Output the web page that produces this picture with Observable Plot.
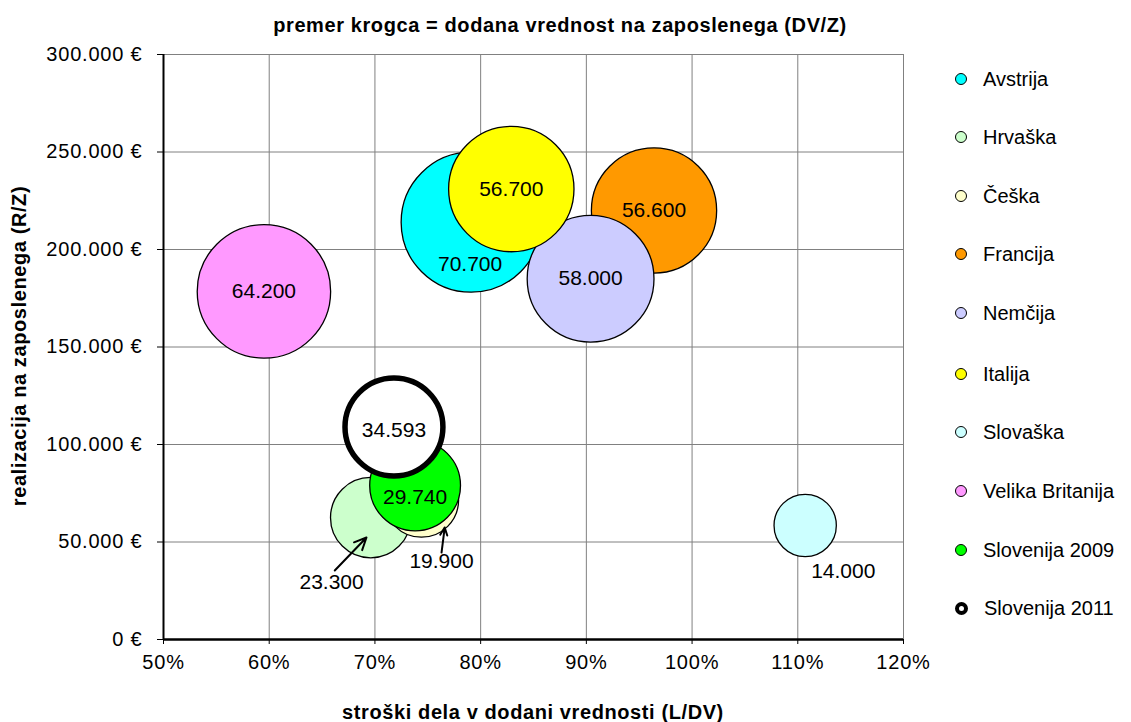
<!DOCTYPE html>
<html>
<head>
<meta charset="utf-8">
<script src="https://cdn.jsdelivr.net/npm/d3@7"></script>
<script src="https://cdn.jsdelivr.net/npm/@observablehq/plot@0.6"></script>
<style>
  body { margin: 0; background: #fff; font-family: "Liberation Sans", Arial, sans-serif; }
  #wrap { position: relative; width: 1131px; height: 722px; }
  #wrap svg { position: absolute; left: 0; top: 0; }
  .title { position: absolute; font-weight: bold; font-size: 20px; letter-spacing: 0.6px; color: #000; white-space: nowrap; line-height: 1; }
  .legend { position: absolute; left: 955px; top: 0; font-size: 20px; }
  .legend .item { position: absolute; left: 0; height: 24px; display: flex; align-items: center; white-space: nowrap; transform: translateY(-50%); }
  .legend .sw { width: 10px; height: 10px; border: 1.5px solid #000; border-radius: 50%; margin-right: 16px; box-sizing: content-box; }
  .tick-lbl text { letter-spacing: 0.8px; }
</style>
</head>
<body>
<div id="wrap">
  <div class="title" style="left:560px;top:25px;transform:translate(-50%,-50%);">premer krogca = dodana vrednost na zaposlenega (DV/Z)</div>
  <div class="title" style="left:533px;top:712px;transform:translate(-50%,-50%);">stroški dela v dodani vrednosti (L/DV)</div>
  <div class="title" style="left:19px;top:346px;transform:translate(-50%,-50%) rotate(-90deg);">realizacija na zaposlenega (R/Z)</div>
  <div class="legend" id="legend"></div>
</div>
<script>
// ---- data ----
const countries = ["Avstrija", "Hrvaška", "Češka", "Francija", "Nemčija", "Italija", "Slovaška", "Velika Britanija", "Slovenija 2009", "Slovenija 2011"];
const laborShare = [0.791, 0.696, 0.744, 0.964, 0.904, 0.829, 1.107, 0.595, 0.738, 0.718];
const revenuePerEmployee = [214000, 62500, 71500, 220000, 185000, 231000, 58500, 178500, 79000, 109000];
const valueAddedPerEmployee = [70700, 23300, 19900, 56600, 58000, 56700, 14000, 64200, 29740, 34593];
const labelText = ["70.700", "23.300", "19.900", "56.600", "58.000", "56.700", "14.000", "64.200", "29.740", "34.593"];
const labelX = [0.790, 0.659, 0.763, 0.964, 0.904, 0.829, 1.143, 0.595, 0.738, 0.718];
const labelY = [192300, 29200, 40000, 220000, 185000, 231000, 34900, 178500, 72800, 107200];
const fillColors = ["#00FFFF", "#CCFFCC", "#FFFFCC", "#FF9900", "#CCCCFF", "#FFFF00", "#CCFFFF", "#FF99FF", "#00FF00", "#FFFFFF"];
const strokeWidths = [1.3, 1.3, 1.3, 1.3, 1.3, 1.3, 1.3, 1.3, 1.3, 5.5];
// arrows from label to bubble (Hrvaška, Češka)
const arrowFromX = [0.662, 0.763];
const arrowFromY = [35400, 44600];
const arrowToX = [0.692, 0.766];
const arrowToY = [52300, 57400];
const xTicks = [0.5, 0.6, 0.7, 0.8, 0.9, 1.0, 1.1, 1.2];
const yTicks = [0, 50000, 100000, 150000, 200000, 250000, 300000];
const legendRowY = [79, 137, 196, 254, 313, 374, 432, 491, 550, 608];

// ---- build tables ----
const bubbles = countries.map((c, i) => ({
  country: c, x: laborShare[i], y: revenuePerEmployee[i], v: valueAddedPerEmployee[i],
  fill: fillColors[i], sw: strokeWidths[i]
}));
const labels = countries.map((c, i) => ({ x: labelX[i], y: labelY[i], text: labelText[i] }));
const arrows = arrowFromX.map((_, i) => ({ x1: arrowFromX[i], y1: arrowFromY[i], x2: arrowToX[i], y2: arrowToY[i] }));

const fmtEuro = n => (n === 0 ? "0" : d3.format(",")(n).replace(/,/g, ".")) + " €";
const fmtPct = p => Math.round(p * 100) + "%";

const chart = Plot.plot({
  width: 1131,
  height: 722,
  marginLeft: 163,
  marginRight: 228,
  marginTop: 54,
  marginBottom: 83,
  style: { fontFamily: "'Liberation Sans', Arial, sans-serif", fontSize: "19px", background: "white", color: "black" },
  x: { domain: [0.5, 1.2] },
  y: { domain: [0, 300000] },
  r: { type: "sqrt", domain: [0, 70700], range: [0, 70] },
  marks: [
    Plot.gridX(xTicks, { stroke: "#808080", strokeOpacity: 1, strokeWidth: 1 }),
    Plot.gridY(yTicks, { stroke: "#808080", strokeOpacity: 1, strokeWidth: 1 }),
    Plot.axisX(xTicks, { tickFormat: fmtPct, tickSize: 5, tickPadding: 10, label: null, fontSize: "20px", className: "tick-lbl" }),
    Plot.axisY(yTicks, { tickFormat: fmtEuro, tickSize: 6, tickPadding: 15, label: null, fontSize: "20px", className: "tick-lbl" }),
    Plot.ruleX([0.5], { stroke: "#000", strokeWidth: 2 }),
    Plot.ruleY([0], { stroke: "#000", strokeWidth: 2.5 }),
    Plot.dot(bubbles, { x: "x", y: "y", r: "v", fill: d => d.fill, stroke: "#000", strokeWidth: d => d.sw, fillOpacity: 1, sort: null }),
    Plot.arrow(arrows, { x1: "x1", y1: "y1", x2: "x2", y2: "y2", stroke: "#000", strokeWidth: 2, headLength: 10, headAngle: 50, bend: 0 }),
    Plot.text(labels, { x: "x", y: "y", text: "text", fontSize: 21, fill: "#000" })
  ]
});
document.getElementById("wrap").prepend(chart);

// ---- legend ----
const legend = document.getElementById("legend");
countries.forEach((c, i) => {
  const item = document.createElement("div");
  item.className = "item";
  item.style.top = legendRowY[i] + "px";
  const sw = document.createElement("span");
  sw.className = "sw";
  sw.style.background = fillColors[i];
  if (strokeWidths[i] > 2) { sw.style.border = "4px solid #000"; sw.style.width = "5px"; sw.style.height = "5px"; }
  const tx = document.createElement("span");
  tx.textContent = c;
  item.appendChild(sw);
  item.appendChild(tx);
  legend.appendChild(item);
});
</script>
</body>
</html>
